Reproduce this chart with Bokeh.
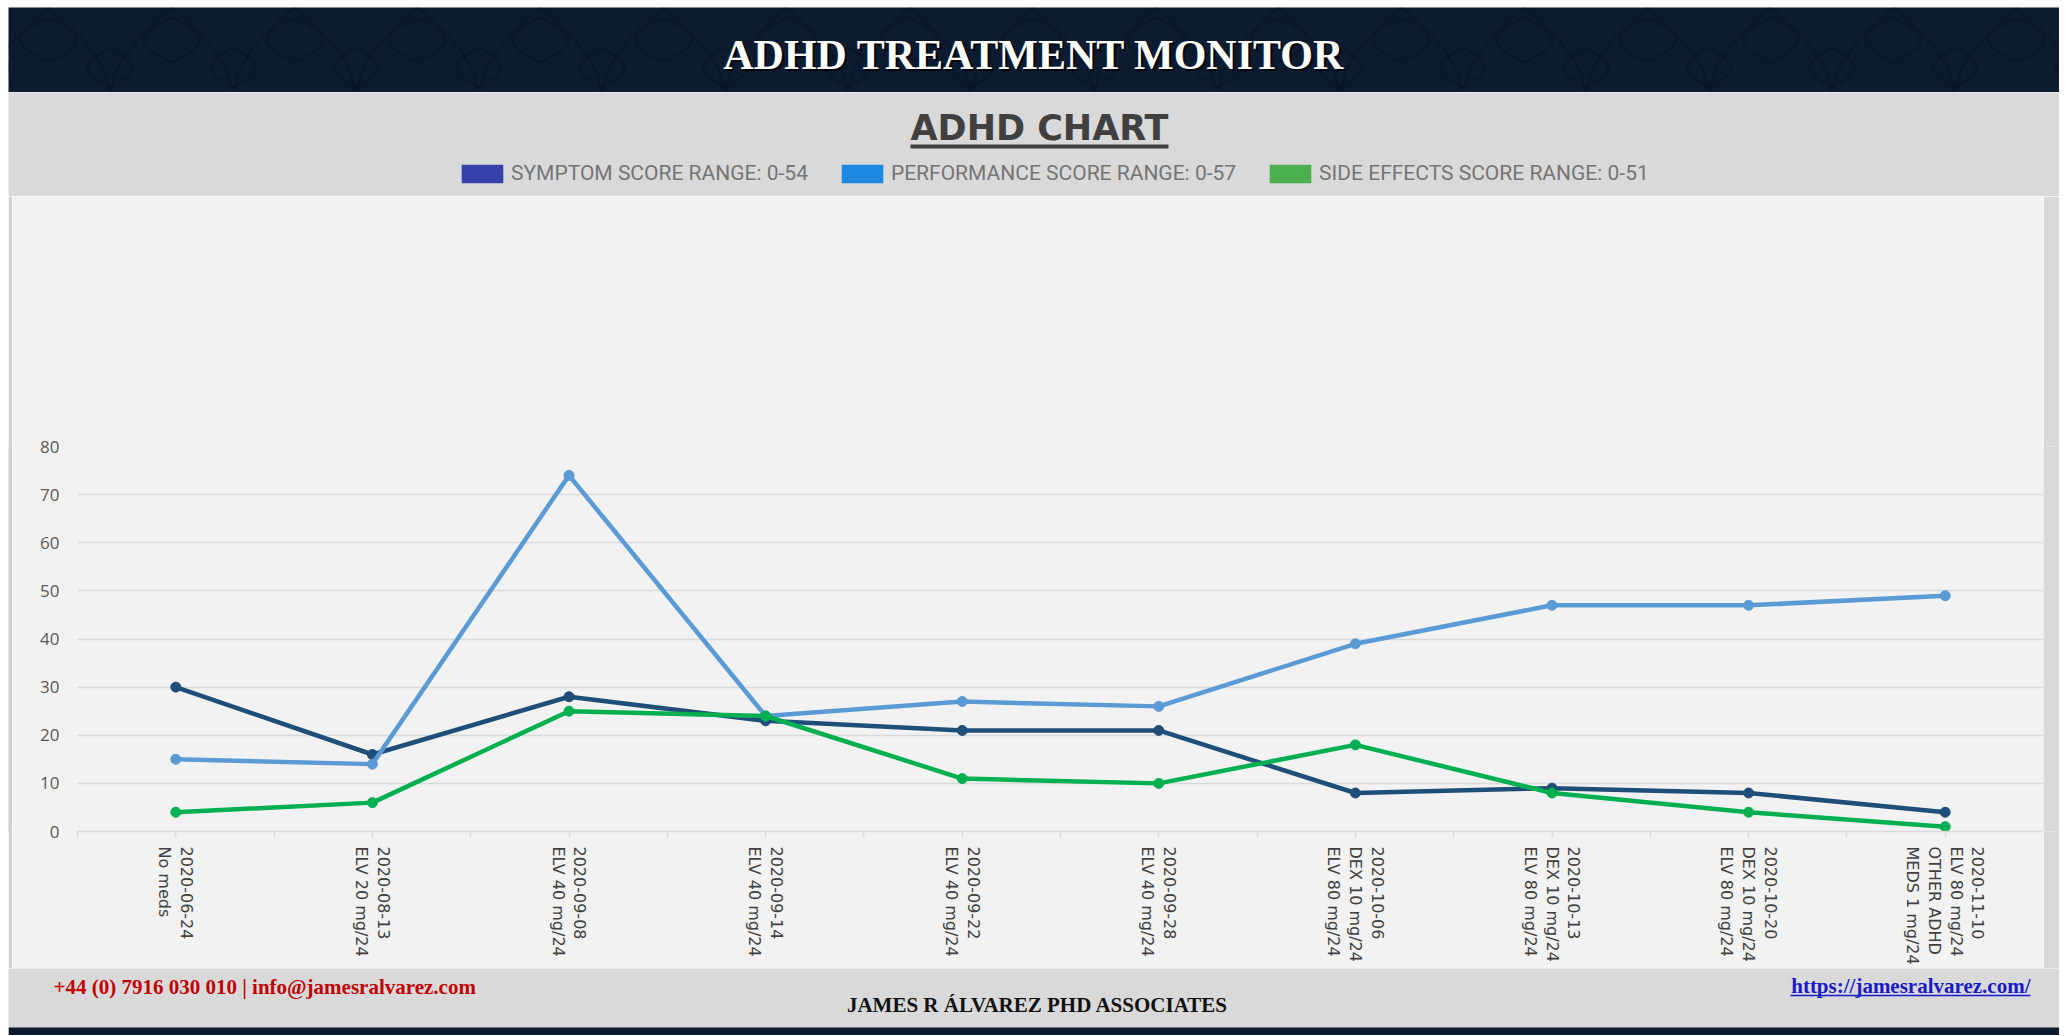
import numpy as np
from bokeh.plotting import figure
from bokeh.layouts import column, row
from bokeh.models import Range1d, FixedTicker, Legend, LegendItem
from bokeh.core.properties import value
from bokeh.embed import file_html
from bokeh.resources import INLINE

# ---------------- data ----------------
dates = ["2020-06-24", "2020-08-13", "2020-09-08", "2020-09-14", "2020-09-22",
         "2020-09-28", "2020-10-06", "2020-10-13", "2020-10-20", "2020-11-10"]
treatments = ["No meds", "ELV 20 mg/24", "ELV 40 mg/24", "ELV 40 mg/24", "ELV 40 mg/24",
              "ELV 40 mg/24", "DEX 10 mg/24\nELV 80 mg/24", "DEX 10 mg/24\nELV 80 mg/24",
              "DEX 10 mg/24\nELV 80 mg/24", "ELV 80 mg/24\nOTHER ADHD\nMEDS 1 mg/24"]
symptom = [30, 16, 28, 23, 21, 21, 8, 9, 8, 4]
performance = [15, 14, 74, 24, 27, 26, 39, 47, 47, 49]
side_effects = [4, 6, 25, 24, 11, 10, 18, 8, 4, 1]
y_ticks = [0, 10, 20, 30, 40, 50, 60, 70, 80]
legend_labels = ["SYMPTOM SCORE RANGE: 0-54", "PERFORMANCE SCORE RANGE: 0-57",
                 "SIDE EFFECTS SCORE RANGE: 0-51"]
legend_colors = ["#3641AA", "#1E88E5", "#4CAF50"]
line_colors = ["#1F4E79", "#5B9BD5", "#00B050"]

page_title = "ADHD TREATMENT MONITOR"
chart_title = "ADHD CHART"
footer_left = "+44 (0) 7916 030 010 | info@jamesralvarez.com"
footer_center = "JAMES R ÁLVAREZ PHD ASSOCIATES"
footer_right = "https://jamesralvarez.com/"

NAVY = "#0D1B30"
GRAY = "#D9D9D9"
PANEL = "#F2F2F2"
W = 2051


def blank(width, height, color):
    f = figure(width=width, height=height, x_range=Range1d(0, width), y_range=Range1d(0, height),
               x_axis_location=None, y_axis_location=None, toolbar_location=None,
               output_backend="svg", min_border=0, outline_line_color=None,
               background_fill_color=color, border_fill_color=color)
    f.grid.visible = False
    return f


# ---------------- header ----------------
hdr = blank(W, 85, NAVY)
# decorative leaf pattern
xs_list, ys_list = [], []
tile = 123.0
t = np.linspace(0, 1, 30)
for k in range(-1, int(W / tile) + 2):
    cx = k * tile + 40
    for sgn in (-1, 1):
        xs_list.append(list(cx + sgn * 60 * np.sin(t * np.pi / 2)))
        ys_list.append(list(85 - 85 * t))
        xs_list.append(list(cx + sgn * 28 * np.sin(t * np.pi)))
        ys_list.append(list(75 - 45 * t))
        xs_list.append(list(cx + tile / 2 + sgn * 22 * np.sin(t * np.pi)))
        ys_list.append(list(45 - 40 * t))
hdr.multi_line(xs_list, ys_list, line_color="#050C18", line_width=2.5, line_alpha=0.3)
hdr.text(x=[W / 2 + 2], y=[36], text=[page_title], text_font=value("Liberation Serif"),
         text_font_style="bold", text_font_size="42px", text_color="#000000",
         text_align="center", text_baseline="middle", text_alpha=0.8)
hdr.text(x=[W / 2], y=[38], text=[page_title], text_font=value("Liberation Serif"),
         text_font_style="bold", text_font_size="42px", text_color="#FFFFFF",
         text_align="center", text_baseline="middle")

# ---------------- chart title + legend ----------------
ttl = blank(W, 104, GRAY)
ttl.text(x=[1031], y=[69], text=[chart_title], text_font=value("DejaVu Sans"),
         text_font_style="bold", text_font_size="35px", text_color="#404040",
         text_align="center", text_baseline="middle")
ttl.segment(x0=[902], y0=[50], x1=[1160], y1=[50], line_color="#404040", line_width=4)
items = []
for lbl, col in zip(legend_labels, legend_colors):
    r = ttl.rect(x=[-1000], y=[-1000], width=1, height=1, fill_color=col, line_color=None)
    items.append(LegendItem(label=lbl, renderers=[r]))
leg = Legend(items=items, orientation="horizontal", location=(448, 11), padding=0, margin=0,
             spacing=28, glyph_width=52, glyph_height=23, label_height=23, label_standoff=3,
             label_text_font="Roboto", label_text_font_size="21px", label_text_color="#757575",
             background_fill_alpha=0, border_line_color=None)
ttl.add_layout(leg)

# ---------------- chart ----------------
n = len(dates)
x = np.arange(n) + 0.5
p = figure(width=2031, height=772, x_range=Range1d(0, n), y_range=Range1d(0, 80),
           output_backend="svg", toolbar_location=None,
           min_border_left=65, min_border_right=0, min_border_top=250, min_border_bottom=137,
           background_fill_color=PANEL, border_fill_color=PANEL, outline_line_color=None)

for vals, col in zip([symptom, performance, side_effects], line_colors):
    p.line(x, vals, line_color=col, line_width=4.5)
    p.scatter(x, vals, size=10, fill_color=col, line_color=col)

p.xgrid.visible = False
p.ygrid.grid_line_color = GRAY
p.ygrid.grid_line_width = 1.5
p.ygrid.ticker = FixedTicker(ticks=y_ticks)

xa = p.xaxis[0]
xa.ticker = FixedTicker(ticks=list(np.arange(0, n + 0.5, 0.5)))
overrides = {float(i): "" for i in range(n + 1)}
for i in range(n):
    overrides[float(i) + 0.5] = dates[i] + "\n" + treatments[i]
xa.major_label_overrides = overrides
xa.major_label_orientation = -np.pi / 2
xa.major_label_text_font = "DejaVu Sans"
xa.major_label_text_font_size = "16px"
xa.major_label_text_color = "#404040"
xa.major_label_text_line_height = 1.15
xa.axis_line_color = GRAY
xa.axis_line_width = 1.5
xa.major_tick_line_color = GRAY
xa.major_tick_line_width = 1.5
xa.major_tick_in = 0
xa.major_tick_out = 6
xa.minor_tick_line_color = None
xa.major_label_standoff = 9

ya = p.yaxis[0]
ya.ticker = FixedTicker(ticks=y_ticks)
ya.axis_line_color = None
ya.major_tick_line_color = None
ya.minor_tick_line_color = None
ya.major_label_standoff = 12
ya.major_label_text_font = "Open Sans"
ya.major_label_text_font_size = "17px"
ya.major_label_text_color = "#595959"

left_strip = blank(4, 772, "#D0D0D0")
right_strip = blank(16, 772, GRAY)

# ---------------- footer ----------------
ftr = blank(W, 67, GRAY)
ftr.quad(left=[0], right=[W], bottom=[0], top=[8], fill_color=NAVY, line_color=None)
ftr.text(x=[45], y=[49], text=[footer_left], text_font=value("Liberation Serif"),
         text_font_style="bold", text_font_size="21px", text_color="#C00000",
         text_align="left", text_baseline="middle")
ftr.text(x=[1029], y=[31], text=[footer_center], text_font=value("Liberation Serif"),
         text_font_style="bold", text_font_size="21px", text_color="#111111",
         text_align="center", text_baseline="middle")
ftr.text(x=[2022], y=[50], text=[footer_right], text_font=value("Liberation Serif"),
         text_font_style="bold", text_font_size="21px", text_color="#1A1AC8",
         text_align="right", text_baseline="middle")
ftr.segment(x0=[1782], y0=[40], x1=[2022], y1=[40], line_color="#1A1AC8", line_width=1.5)

layout = column(hdr, ttl, row(left_strip, p, right_strip), ftr, margin=(7, 8, 0, 8))
open("out.html", "w").write(file_html(layout, INLINE))
